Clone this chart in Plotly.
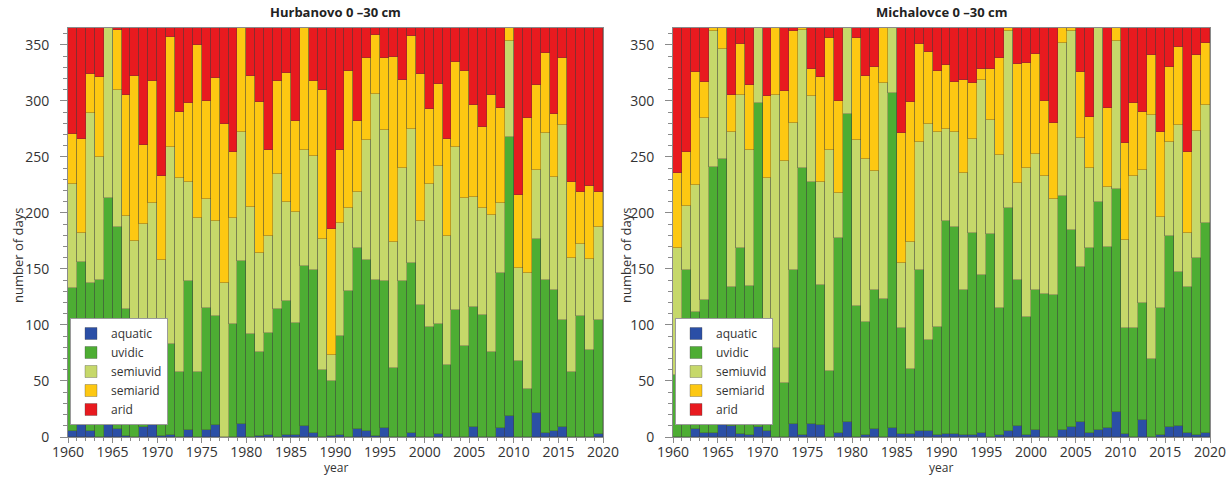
import plotly.graph_objects as go

years = list(range(1961, 2021))
categories = ["aquatic", "uvidic", "semiuvid", "semiarid", "arid"]
colors = ["#2b4fa6", "#4dad33", "#c6d86a", "#fdc812", "#e81a1f"]
titles = ["Hurbanovo 0 \u201330 cm", "Michalovce 0 \u201330 cm"]

# Hurbanovo 0-30 cm (days per class)
h_aquatic = [5, 14, 5, 0, 17, 7, 1, 0, 9, 11, 1, 2, 0, 6, 0, 6, 11, 0, 0, 12,
             0, 1, 2, 0, 2, 2, 10, 4, 0, 1, 2, 0, 7, 5, 1, 8, 0, 0, 4, 0,
             0, 3, 0, 0, 0, 9, 0, 0, 8, 19, 0, 0, 21, 4, 5, 9, 0, 0, 0, 3]
h_uvidic = [128, 142, 132, 140, 196, 180, 113, 99, 90, 94, 64, 81, 58, 133, 58, 109, 97, 0, 101, 145,
            92, 75, 91, 114, 119, 100, 143, 145, 60, 49, 88, 130, 162, 153, 139, 131, 62, 139, 151, 118,
            98, 98, 64, 113, 81, 107, 109, 76, 138, 249, 68, 43, 156, 136, 126, 95, 58, 108, 78, 101]
h_semiuvid = [93, 26, 152, 110, 152, 123, 83, 76, 91, 104, 93, 176, 173, 89, 137, 97, 85, 137, 94, 115,
              113, 88, 86, 121, 89, 99, 103, 102, 117, 23, 101, 74, 50, 107, 166, 135, 112, 101, 120, 75,
              128, 141, 115, 146, 132, 98, 95, 122, 63, 85, 83, 103, 61, 131, 101, 174, 102, 64, 81, 83]
h_semiarid = [44, 84, 35, 71, 0, 53, 108, 147, 71, 109, 75, 98, 59, 70, 155, 88, 127, 142, 59, 93,
              117, 135, 77, 83, 115, 81, 109, 67, 133, 113, 65, 123, 63, 73, 53, 64, 165, 79, 83, 131,
              67, 73, 87, 76, 114, 82, 73, 107, 85, 12, 65, 139, 76, 72, 56, 60, 68, 47, 65, 32]
h_arid = [95, 99, 41, 44, 0, 2, 60, 43, 104, 47, 132, 8, 75, 67, 15, 65, 45, 86, 111, 0,
          43, 66, 109, 47, 40, 83, 0, 47, 55, 179, 109, 38, 83, 27, 6, 27, 26, 46, 7, 41,
          72, 50, 99, 30, 38, 69, 88, 60, 71, 0, 149, 80, 51, 22, 77, 27, 137, 146, 141, 146]

# Michalovce 0-30 cm (days per class)
m_aquatic = [0, 0, 7, 4, 4, 12, 10, 3, 2, 9, 5, 0, 0, 12, 2, 12, 11, 0, 4, 13,
             0, 2, 7, 0, 8, 3, 3, 5, 5, 2, 3, 3, 2, 2, 4, 0, 2, 5, 10, 2,
             6, 0, 0, 6, 9, 13, 4, 6, 8, 22, 3, 0, 15, 0, 2, 9, 10, 4, 2, 4]
m_uvidic = [55, 149, 105, 118, 237, 236, 124, 166, 133, 289, 95, 79, 48, 137, 238, 216, 125, 59, 174, 275,
            117, 101, 124, 123, 299, 94, 58, 144, 82, 96, 190, 184, 129, 180, 141, 181, 113, 199, 130, 105,
            125, 128, 127, 209, 176, 139, 165, 204, 162, 199, 94, 97, 105, 70, 113, 170, 137, 130, 158, 187]
m_semiuvid = [114, 57, 113, 163, 121, 98, 138, 136, 121, 67, 131, 226, 198, 131, 123, 76, 92, 197, 40, 77,
              148, 145, 106, 193, 58, 58, 113, 114, 192, 174, 82, 85, 105, 84, 174, 102, 137, 158, 87, 133,
              122, 105, 85, 137, 177, 115, 71, 155, 53, 132, 79, 136, 118, 217, 81, 84, 131, 48, 113, 105]
m_semiarid = [67, 48, 101, 32, 3, 19, 33, 46, 58, 0, 73, 60, 63, 82, 2, 24, 93, 100, 82, 0,
              91, 74, 93, 49, 0, 116, 125, 88, 65, 55, 57, 45, 83, 50, 9, 45, 86, 3, 106, 94,
              89, 67, 68, 13, 3, 59, 46, 0, 71, 12, 86, 65, 52, 54, 76, 67, 70, 72, 68, 56]
m_arid = [129, 111, 39, 48, 0, 0, 60, 14, 51, 0, 61, 0, 56, 3, 0, 37, 44, 9, 65, 0,
          9, 43, 35, 0, 0, 94, 66, 14, 21, 38, 33, 48, 46, 49, 37, 37, 27, 0, 32, 31,
          23, 65, 85, 0, 0, 39, 79, 0, 71, 0, 103, 67, 75, 24, 93, 35, 17, 111, 24, 13]

panels = [
    [h_aquatic, h_uvidic, h_semiuvid, h_semiarid, h_arid],
    [m_aquatic, m_uvidic, m_semiuvid, m_semiarid, m_arid],
]

xpos = [y - 0.5 for y in years]

fig = go.Figure()
for p, series in enumerate(panels):
    xa = "x" if p == 0 else "x2"
    ya = "y" if p == 0 else "y2"
    lg = "legend" if p == 0 else "legend2"
    for name, vals, col in zip(categories, series, colors):
        fig.add_trace(go.Bar(
            x=xpos, y=vals, name=name, xaxis=xa, yaxis=ya, legend=lg,
            marker=dict(color=col, line=dict(color="rgba(60,60,60,0.55)", width=0.6)),
            width=1.0,
            customdata=years,
            hovertemplate="%{customdata}: %{y} days<extra>" + name + "</extra>",
        ))

font_family = "Open Sans, Liberation Sans, sans-serif"
axis_common = dict(
    showgrid=False, zeroline=False, showline=True, linecolor="#8a8a8a", linewidth=1,
    mirror=True, ticks="outside", tickcolor="#8a8a8a", tickwidth=1,
    automargin=False,
    tickfont=dict(size=14, color="#333333", family=font_family),
)

xaxis_cfg = dict(axis_common, range=[1960, 2020], tick0=1960, dtick=5, ticklen=5,
                 ticklabelstandoff=-3,
                 minor=dict(dtick=1, ticklen=3, tickcolor="#8a8a8a", ticks="outside"))
yaxis_cfg = dict(axis_common, range=[0, 365], tick0=0, dtick=50, ticklen=7,
                 ticklabelstandoff=8,
                 minor=dict(dtick=10, ticklen=4, tickcolor="#8a8a8a", ticks="outside"))

legend_common = dict(
    bgcolor="white", bordercolor="#9a9a9a", borderwidth=1,
    font=dict(size=12, color="#333333", family=font_family),
    traceorder="normal", itemwidth=30, tracegroupgap=0,
    yanchor="top", xanchor="left",
)

panel_x = [(68, 603), (673, 1210)]
ylabel_x = [18, 626]
annotations = []
for (x0, x1), t, yl in zip(panel_x, titles, ylabel_x):
    cx = (x0 + x1) / 2 / 1228
    annotations.append(dict(text="<b>" + t + "</b>", x=cx, y=1 - 12 / 477,
                            xref="paper", yref="paper", showarrow=False,
                            xanchor="center", yanchor="middle",
                            font=dict(size=13, color="#222222", family=font_family)))
    annotations.append(dict(text="year", x=cx, y=1 - 467.5 / 477,
                            xref="paper", yref="paper", showarrow=False,
                            xanchor="center", yanchor="middle", borderpad=0,
                            font=dict(size=12, color="#333333", family=font_family)))
    annotations.append(dict(text="number of days", x=yl / 1228, y=1 - 256 / 477,
                            xref="paper", yref="paper", showarrow=False, textangle=-90,
                            xanchor="center", yanchor="middle", borderpad=0,
                            font=dict(size=13, color="#333333", family=font_family)))

fig.update_layout(
    width=1228, height=477,
    margin=dict(l=0, r=0, t=0, b=0, autoexpand=False),
    paper_bgcolor="white", plot_bgcolor="white",
    barmode="stack", bargap=0,
    showlegend=True,
    font=dict(family=font_family, color="#333333"),
    xaxis=dict(xaxis_cfg, domain=[68 / 1228, 603 / 1228], anchor="y"),
    yaxis=dict(yaxis_cfg, domain=[1 - 437 / 477, 1 - 28 / 477], anchor="x"),
    xaxis2=dict(xaxis_cfg, domain=[673 / 1228, 1210 / 1228], anchor="y2"),
    yaxis2=dict(yaxis_cfg, domain=[1 - 437 / 477, 1 - 28 / 477], anchor="x2"),
    legend=dict(legend_common, x=70 / 1228, y=1 - 318 / 477),
    legend2=dict(legend_common, x=675 / 1228, y=1 - 318 / 477),
    annotations=annotations,
)

fig.write_html("out.html", config={"displayModeBar": False},
               post_script="document.body.style.margin='0';document.body.style.overflow='hidden';")
